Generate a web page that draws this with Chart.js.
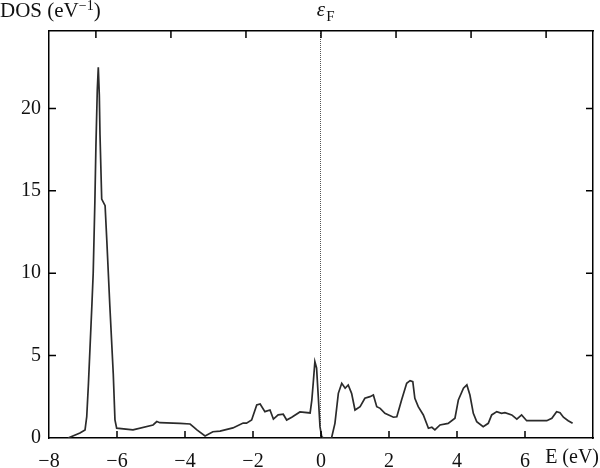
<!DOCTYPE html>
<html>
<head>
<meta charset="utf-8">
<script src="https://cdn.jsdelivr.net/npm/chart.js@4.4.1/dist/chart.umd.min.js"></script>
<style>
  html, body { margin: 0; padding: 0; background: #fff; }
</style>
</head>
<body>
<canvas id="dosChart" width="600" height="468"></canvas>
<script>
// energies (eV) and density of states (1/eV)
const energies = [
  -7.44, -7.09, -6.94, -6.89, -6.84, -6.74, -6.70, -6.65, -6.62, -6.58,
  -6.55, -6.52, -6.50, -6.45, -6.35, -6.30, -6.21, -6.11, -6.06, -6.01,
  -5.53, -4.94, -4.83, -4.74, -4.15, -3.85, -3.76, -3.65, -3.41, -3.18,
  -2.97, -2.59, -2.29, -2.19, -2.04, -1.89, -1.79, -1.65, -1.50, -1.40,
  -1.26, -1.11, -1.01, -0.86, -0.62, -0.32, -0.27, -0.23, -0.18, -0.13,
  -0.08, -0.03, 0.02, 0.07, 0.31, 0.41, 0.51, 0.61, 0.71, 0.80,
  0.90, 1.00, 1.15, 1.29, 1.44, 1.54, 1.64, 1.74, 1.88, 2.13,
  2.23, 2.37, 2.52, 2.62, 2.70, 2.76, 2.86, 3.01, 3.16, 3.26,
  3.35, 3.50, 3.74, 3.94, 4.04, 4.19, 4.29, 4.38, 4.48, 4.58,
  4.77, 4.92, 5.02, 5.17, 5.31, 5.41, 5.61, 5.76, 5.90, 6.05,
  6.64, 6.79, 6.93, 7.03, 7.13, 7.27, 7.40
];
const dosValues = [
  0, 0.3, 0.49, 1.3, 3.3, 8.0, 10.0, 14.4, 17.7, 21.1,
  22.5, 20.8, 18.4, 14.5, 14.1, 12.0, 8.0, 3.9, 1.1, 0.6,
  0.49, 0.79, 1.0, 0.93, 0.89, 0.85, 0.69, 0.49, 0.12, 0.38,
  0.42, 0.61, 0.91, 0.9, 1.09, 2.0, 2.06, 1.6, 1.7, 1.15,
  1.4, 1.44, 1.09, 1.26, 1.58, 1.52, 2.3, 3.3, 4.63, 4.25,
  2.5, 0.69, 0.08, 0, 0, 0.89, 2.71, 3.32, 3.02, 3.22,
  2.71, 1.7, 1.9, 2.41, 2.51, 2.61, 1.9, 1.8, 1.5, 1.26,
  1.29, 2.31, 3.32, 3.48, 3.42, 2.41, 1.9, 1.4, 0.59, 0.65,
  0.49, 0.79, 0.89, 1.2, 2.31, 3.02, 3.22, 2.61, 1.5, 0.99,
  0.69, 0.89, 1.4, 1.6, 1.5, 1.54, 1.4, 1.14, 1.4, 1.05,
  1.05, 1.2, 1.6, 1.54, 1.26, 1.05, 0.89
];

const bottomTicks = [-8, -6, -4, -2, 0, 2, 4, 6];
const topTicks = [-6, -4, -2, 0, 2, 4, 6];
const yTicks = [0, 5, 10, 15, 20];
const fermiEnergy = 0;

const serif = "'Liberation Serif', 'DejaVu Serif', serif";
const canvas = document.getElementById('dosChart');
const ctx = canvas.getContext('2d');

function setTicks(values) {
  return function (scale) {
    scale.ticks = values.map(v => ({ value: v }));
  };
}

function minusLabel(v) {
  return v < 0 ? '\u2212' + Math.abs(v) : String(v);
}

// small tick marks pointing into the plot on all four sides
const inwardTicks = {
  id: 'inwardTicks',
  afterDraw(chart) {
    const { ctx, chartArea: a, scales } = chart;
    const len = 7;
    ctx.save();
    ctx.strokeStyle = '#000';
    ctx.lineWidth = 1.5;
    ctx.beginPath();
    scales.x.ticks.forEach(t => {
      const p = scales.x.getPixelForValue(t.value);
      if (p > a.left + 2 && p < a.right - 2) { ctx.moveTo(p, a.bottom); ctx.lineTo(p, a.bottom - len); }
    });
    scales.x2.ticks.forEach(t => {
      const p = scales.x2.getPixelForValue(t.value);
      if (p > a.left + 2 && p < a.right - 2) { ctx.moveTo(p, a.top); ctx.lineTo(p, a.top + len); }
    });
    scales.y.ticks.forEach(t => {
      const p = scales.y.getPixelForValue(t.value);
      if (p > a.top + 2 && p < a.bottom - 2) { ctx.moveTo(a.left, p); ctx.lineTo(a.left + len, p); }
    });
    scales.y2.ticks.forEach(t => {
      const p = scales.y2.getPixelForValue(t.value);
      if (p > a.top + 2 && p < a.bottom - 2) { ctx.moveTo(a.right, p); ctx.lineTo(a.right - len, p); }
    });
    ctx.stroke();
    ctx.restore();
  }
};

// dotted Fermi level line + the free text labels
const annotations = {
  id: 'annotations',
  beforeDatasetsDraw(chart) {
    const { ctx, chartArea: a, scales } = chart;
    const xf = Math.round(scales.x.getPixelForValue(fermiEnergy)) - 0.5;
    ctx.save();
    ctx.strokeStyle = '#555';
    ctx.lineWidth = 1;
    ctx.setLineDash([1, 1]);
    ctx.beginPath();
    ctx.moveTo(xf, a.top);
    ctx.lineTo(xf, a.bottom);
    ctx.stroke();
    ctx.restore();
  },
  afterDraw(chart) {
    const { ctx, scales } = chart;
    ctx.save();
    ctx.fillStyle = '#111';
    ctx.textBaseline = 'alphabetic';
    ctx.textAlign = 'left';

    // y title: DOS (eV^-1)
    ctx.font = '21px ' + serif;
    let x = 0;
    ctx.fillText('DOS (eV', x, 17);
    x += ctx.measureText('DOS (eV').width;
    ctx.font = '14px ' + serif;
    ctx.fillText('\u22121', x, 10);
    x += ctx.measureText('\u22121').width;
    ctx.font = '21px ' + serif;
    ctx.fillText(')', x, 17);

    // epsilon_F above the Fermi line
    const xf = scales.x.getPixelForValue(fermiEnergy);
    ctx.font = 'italic 21px ' + serif;
    const ew = ctx.measureText('\u03b5').width;
    ctx.fillText('\u03b5', xf - ew / 2, 16);
    ctx.font = '15px ' + serif;
    ctx.fillText('F', xf + ew / 2 + 1, 21);

    // x title in place of the last tick label
    ctx.font = '20px ' + serif;
    ctx.textAlign = 'right';
    ctx.fillText('E (eV)', 599, 463);
    ctx.restore();
  }
};

const tickFont = { family: serif, size: 20 };

new Chart(ctx, {
  type: 'line',
  data: {
    datasets: [{
      label: 'DOS',
      data: energies.map((e, i) => ({ x: e, y: dosValues[i] })),
      borderColor: '#2b2b2b',
      borderWidth: 1.7,
      pointRadius: 0,
      tension: 0,
      fill: false,
      xAxisID: 'x',
      yAxisID: 'y'
    }]
  },
  options: {
    responsive: false,
    animation: false,
    events: [],
    layout: { padding: 0 },
    plugins: {
      legend: { display: false },
      tooltip: { enabled: false }
    },
    scales: {
      x: {
        type: 'linear',
        position: 'bottom',
        min: -8,
        max: 8,
        grid: { display: false, drawTicks: false },
        border: { display: true, color: '#000', width: 1.5 },
        ticks: {
          color: '#111',
          font: tickFont,
          padding: 12,
          autoSkip: false,
          maxRotation: 0,
          callback: minusLabel
        },
        afterBuildTicks: setTicks(bottomTicks),
        afterFit: s => { s.height = 30; }
      },
      x2: {
        type: 'linear',
        position: 'top',
        min: -7.25,
        max: 7.25,
        grid: { display: false, drawTicks: false },
        border: { display: true, color: '#000', width: 1.5 },
        ticks: { display: false },
        afterBuildTicks: setTicks(topTicks),
        afterFit: s => { s.height = 31; }
      },
      y: {
        type: 'linear',
        position: 'left',
        min: 0,
        max: 24.7,
        grid: { display: false, drawTicks: false },
        border: { display: true, color: '#000', width: 1.5 },
        ticks: {
          color: '#111',
          font: tickFont,
          padding: 8,
          callback: v => String(v)
        },
        afterBuildTicks: setTicks(yTicks),
        afterFit: s => { s.width = 49; }
      },
      y2: {
        type: 'linear',
        position: 'right',
        min: 0,
        max: 24.7,
        grid: { display: false, drawTicks: false },
        border: { display: true, color: '#000', width: 1.5 },
        ticks: { display: false },
        afterBuildTicks: setTicks(yTicks),
        afterFit: s => { s.width = 7; }
      }
    }
  },
  plugins: [annotations, inwardTicks]
});
</script>
</body>
</html>
